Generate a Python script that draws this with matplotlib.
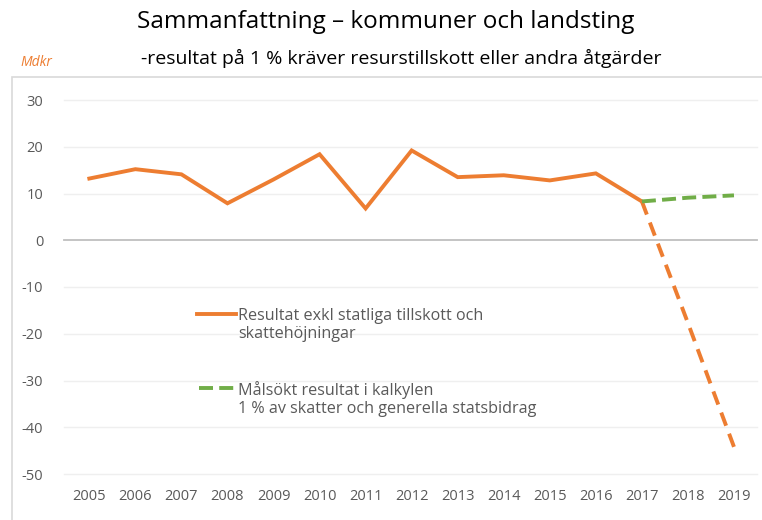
import matplotlib
matplotlib.use("Agg")
import matplotlib.pyplot as plt
from matplotlib.patches import Rectangle
from matplotlib.lines import Line2D

years = [2005, 2006, 2007, 2008, 2009, 2010, 2011, 2012, 2013, 2014, 2015, 2016, 2017, 2018, 2019]
resultat_hist = [13.2, 15.2, 14.1, 7.9, 13.0, 18.4, 6.8, 19.2, 13.5, 13.9, 12.8, 14.3, 8.3]
resultat_proj_years = [2017, 2018, 2019]
resultat_proj = [8.3, -17.7, -44.2]
malsokt_years = [2017, 2018, 2019]
malsokt = [8.3, 9.1, 9.6]
yticks = [30, 20, 10, 0, -10, -20, -30, -40, -50]

title = "Sammanfattning – kommuner och landsting"
subtitle = "-resultat på 1 % kräver resurstillskott eller andra åtgärder"
unit = "Mdkr"
leg1 = "Resultat exkl statliga tillskott och\nskattehöjningar"
leg2 = "Målsökt resultat i kalkylen\n1 % av skatter och generella statsbidrag"

orange = "#ED7D31"
green = "#70AD47"
gray_text = "#595959"

plt.rcParams['font.family'] = ['Open Sans', 'DejaVu Sans']

W, H = 762, 520
fig = plt.figure(figsize=(W / 100, H / 100), dpi=100)
fig.patch.set_facecolor("white")

# outer chart box
fig.patches.append(Rectangle((12 / W, -0.05), 1.0, (H - 77) / H + 0.05,
                             transform=fig.transFigure, fill=False,
                             edgecolor="#D9D9D9", linewidth=1.2))

ax = fig.add_axes([64 / W, (H - 474) / H, 693 / W, 374 / H])
ax.set_xlim(2004.45, 2019.5)
ax.set_ylim(-50, 30)
for s in ax.spines.values():
    s.set_visible(False)
ax.set_yticks(yticks)
ax.set_yticklabels([str(v) for v in yticks])
ax.set_xticks(years)
ax.set_xticklabels([str(y) for y in years])
ax.tick_params(axis='both', length=0, labelsize=10.5, colors=gray_text)
ax.tick_params(axis='y', pad=15)
ax.tick_params(axis='x', pad=11)
for v in yticks:
    if v == 0:
        ax.axhline(v, color="#BFBFBF", linewidth=1.3, zorder=1, clip_on=False)
    else:
        ax.axhline(v, color="#EFEFEF", linewidth=1.0, zorder=1, clip_on=False)

ax.plot(years[:len(resultat_hist)], resultat_hist, color=orange, linewidth=2.8,
        solid_joinstyle='miter', zorder=3)
ax.plot(resultat_proj_years, resultat_proj, color=orange, linewidth=2.8,
        linestyle=(0, (3.6, 2.2)), zorder=3)
ax.plot(malsokt_years, malsokt, color=green, linewidth=2.8,
        linestyle=(0, (3.6, 1.6)), zorder=4)

# in-plot legend
fig.add_artist(Line2D([197 / W, 236 / W], [1 - 314 / H, 1 - 314 / H],
                      color=orange, linewidth=2.8, transform=fig.transFigure))
fig.text(238 / W, 1 - 325 / H, leg1, fontsize=11.6, color=gray_text,
         va='center', ha='left', linespacing=1.15)
fig.add_artist(Line2D([199 / W, 236 / W], [1 - 388 / H, 1 - 388 / H],
                      color=green, linewidth=2.8, linestyle=(0, (3.6, 1.6)),
                      transform=fig.transFigure))
fig.text(238 / W, 1 - 399 / H, leg2, fontsize=11.6, color=gray_text,
         va='center', ha='left', linespacing=1.15)

fig.text(386 / W, 1 - 22 / H, title, fontsize=17.5, color="black", ha='center', va='center')
fig.text(401 / W, 1 - 58 / H, subtitle, fontsize=14, color="black", ha='center', va='center')
fig.text(20 / W, 1 - 62 / H, unit, fontsize=10, color=orange, style='italic',
         ha='left', va='center')

fig.savefig("out.png", dpi=100, facecolor="white")
